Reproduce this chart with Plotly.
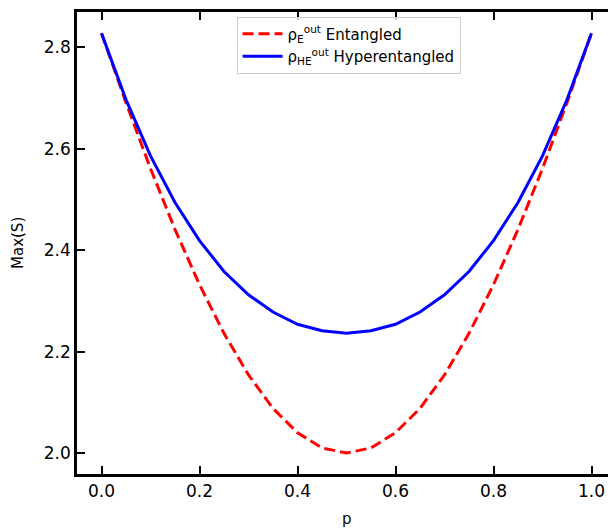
import plotly.graph_objects as go

p = [0.0, 0.05, 0.1, 0.15, 0.2, 0.25, 0.3, 0.35, 0.4, 0.45, 0.5,
     0.55, 0.6, 0.65, 0.7, 0.75, 0.8, 0.85, 0.9, 0.95, 1.0]
entangled = [2.828, 2.691, 2.561, 2.441, 2.332, 2.236, 2.154, 2.088, 2.040, 2.010, 2.000,
             2.010, 2.040, 2.088, 2.154, 2.236, 2.332, 2.441, 2.561, 2.691, 2.828]
hyper = [2.828, 2.697, 2.586, 2.494, 2.419, 2.358, 2.312, 2.278, 2.254, 2.241, 2.236,
         2.241, 2.254, 2.278, 2.312, 2.358, 2.419, 2.494, 2.586, 2.697, 2.828]

x_ticks = [0.0, 0.2, 0.4, 0.6, 0.8, 1.0]
y_ticks = [2.0, 2.2, 2.4, 2.6, 2.8]
x_range = [-0.05, 1.05]
y_range = [1.9586, 2.8698]

font = "DejaVu Sans, sans-serif"

fig = go.Figure()
fig.add_trace(go.Scatter(
    x=p, y=entangled, mode="lines",
    name="ρ<sub>E</sub><sup>out</sup> Entangled",
    line=dict(color="#ff0000", width=3, dash="11px,5px"),
))
fig.add_trace(go.Scatter(
    x=p, y=hyper, mode="lines",
    name="ρ<sub>HE</sub><sup>out</sup> Hyperentangled",
    line=dict(color="#0000ff", width=3),
))
fig.add_trace(go.Scatter(x=[0.5], y=[2.4], yaxis="y2", mode="markers",
                         marker=dict(opacity=0), showlegend=False, hoverinfo="skip"))

# page body has an 8px margin: shift the figure up/left to compensate
fig.update_layout(
    width=616, height=529,
    margin=dict(l=69, r=7.5, t=4, b=63, autoexpand=False),
    paper_bgcolor="white", plot_bgcolor="white",
    font=dict(family=font, size=17, color="black"),
    showlegend=True,
    legend=dict(x=0.296, y=0.99, xanchor="left", yanchor="top",
                bgcolor="rgba(255,255,255,0.8)", bordercolor="#cccccc", borderwidth=1,
                font=dict(family=font, size=15), tracegroupgap=0, itemwidth=40),
    xaxis=dict(range=x_range, tickvals=x_ticks, ticktext=[f"{v:.1f}" for v in x_ticks],
               ticks="inside", ticklen=8, tickwidth=2, tickcolor="black",
               showline=True, linecolor="black", linewidth=2.5, mirror="ticks",
               showgrid=False, zeroline=False, automargin=False,
               tickfont=dict(family=font, size=17)),
    yaxis=dict(range=y_range, tickvals=y_ticks, ticktext=[f"{v:.1f}" for v in y_ticks],
               ticks="inside", ticklen=8, tickwidth=2, tickcolor="black",
               showline=True, linecolor="black", linewidth=2.5,
               showgrid=False, zeroline=False, automargin=False,
               tickfont=dict(family=font, size=17)),
    yaxis2=dict(range=y_range, tickvals=y_ticks, overlaying="y", side="right",
                ticks="inside", ticklen=8, tickwidth=2, tickcolor="black",
                showline=False, showgrid=False, zeroline=False, showticklabels=False,
                automargin=False),
    annotations=[
        dict(text="p", xref="x", yref="paper", x=0.5, y=0, yshift=-45,
             showarrow=False, font=dict(family=font, size=15), yanchor="middle"),
        dict(text="Max(S)", xref="paper", yref="paper", x=0, y=0.5, xshift=-59,
             showarrow=False, font=dict(family=font, size=15), textangle=-90,
             xanchor="center", yanchor="middle"),
    ],
)

fig.write_html("out.html")
